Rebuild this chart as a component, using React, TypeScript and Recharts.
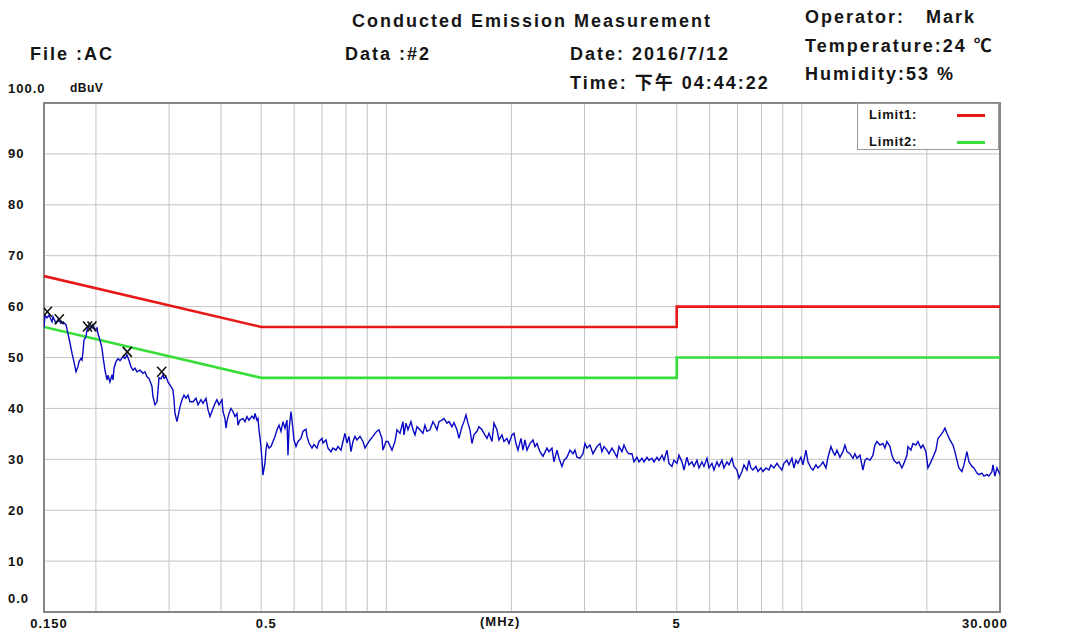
import React from 'react';
import { ComposedChart, Line, Scatter, XAxis, YAxis, CartesianGrid, ReferenceArea } from 'recharts';

const FREQ_MHZ = [
  0.1500, 0.1508, 0.1525, 0.1542, 0.1568, 0.1577, 0.1603, 0.1621, 0.1648, 0.1667, 0.1695, 0.1713, 0.1733, 0.1752, 0.1771, 0.1791, 0.1811, 0.1821, 0.1841, 0.1852, 0.1862, 0.1872,
  0.1893, 0.1904, 0.1925, 0.1957, 0.1968, 0.1990, 0.2012, 0.2023, 0.2046, 0.2069, 0.2080, 0.2103, 0.2127, 0.2139, 0.2162, 0.2187, 0.2199, 0.2211, 0.2236, 0.2261, 0.2286, 0.2324, 0.2350, 0.2376,
  0.2403, 0.2429, 0.2456, 0.2484, 0.2511, 0.2553, 0.2596, 0.2625, 0.2655, 0.2684, 0.2729, 0.2744, 0.2775, 0.2806, 0.2822, 0.2837, 0.2869, 0.2901, 0.2917, 0.2950, 0.2982,
  0.3032, 0.3066, 0.3083, 0.3100, 0.3135, 0.3152, 0.3187, 0.3223, 0.3259, 0.3295, 0.3332, 0.3369, 0.3426, 0.3483, 0.3522, 0.3581, 0.3621, 0.3681, 0.3723,
  0.3764, 0.3827, 0.3870, 0.3912, 0.3956, 0.4023, 0.4045, 0.4090, 0.4113, 0.4136, 0.4182, 0.4228, 0.4275, 0.4323, 0.4371, 0.4396, 0.4444, 0.4519, 0.4570, 0.4620, 0.4672,
  0.4750, 0.4803, 0.4830, 0.4883, 0.4911, 0.4938, 0.4993, 0.5021, 0.5048, 0.5105, 0.5133, 0.5162, 0.5219, 0.5277, 0.5336, 0.5396, 0.5456, 0.5517, 0.5578, 0.5640, 0.5703, 0.5767, 0.5799, 0.5832, 0.5897,
  0.5962, 0.5995, 0.6062, 0.6129, 0.6232, 0.6301, 0.6407, 0.6443, 0.6514, 0.6624, 0.6698, 0.6810, 0.6886, 0.7001, 0.7040, 0.7159, 0.7238, 0.7359, 0.7442,
  0.7566, 0.7650, 0.7779, 0.7865, 0.7953, 0.8042, 0.8131, 0.8222, 0.8314, 0.8406, 0.8500, 0.8643, 0.8788, 0.8885, 0.8985, 0.9135, 0.9288, 0.9392,
  0.9496, 0.9602, 0.9763, 0.9817, 0.9981, 1.0093, 1.0320, 1.0492, 1.0609, 1.0787, 1.0967, 1.1029, 1.1152, 1.1276, 1.1465, 1.1594, 1.1723, 1.1853,
  1.2051, 1.2253, 1.2389, 1.2527, 1.2737, 1.2952, 1.3096, 1.3242, 1.3390, 1.3614, 1.3766, 1.3998, 1.4153, 1.4390, 1.4551, 1.4795, 1.4959,
  1.5209, 1.5378, 1.5551, 1.5723, 1.5899, 1.6076, 1.6256, 1.6529, 1.6713, 1.6992, 1.7183, 1.7471, 1.7666, 1.7961, 1.8162, 1.8467, 1.8672,
  1.8984, 1.9195, 1.9516, 1.9735, 2.0064, 2.0289, 2.0515, 2.0744, 2.1091, 2.1325, 2.1565, 2.1805, 2.2171, 2.2543, 2.2795, 2.3047, 2.3435,
  2.3826, 2.4361, 2.4632, 2.5045, 2.5324, 2.5749, 2.6037, 2.6474, 2.6769, 2.7218, 2.7675, 2.8138, 2.8452, 2.8768, 2.9251, 2.9741,
  3.0070, 3.0405, 3.0914, 3.1435, 3.1785, 3.2138, 3.2677, 3.3042, 3.3410, 3.3972, 3.4350, 3.4927, 3.5317, 3.5909, 3.6310, 3.6921, 3.7331,
  3.7950, 3.8372, 3.9017, 3.9454, 4.0113, 4.0561, 4.1243, 4.1703, 4.2404, 4.2879, 4.3599, 4.4088, 4.4826, 4.5328, 4.6089, 4.6601,
  4.7368, 4.7894, 4.8701, 4.9241, 5.0067, 5.0622, 5.1476, 5.2050, 5.2922, 5.3511, 5.4407, 5.5014, 5.5939, 5.6565, 5.7514, 5.8154, 5.9132,
  5.9782, 6.0785, 6.1460, 6.2493, 6.3191, 6.4248, 6.4965, 6.6058, 6.6792, 6.7909, 6.8668, 6.9820, 7.0597, 7.1779, 7.2579, 7.3797, 7.4621,
  7.5449, 7.6291, 7.7569, 7.8434, 7.9750, 8.0637, 8.1990, 8.3365, 8.4290, 8.5704, 8.7140, 8.8117, 8.9591, 9.0590, 9.2117, 9.3139,
  9.4700, 9.5751, 9.6820, 9.7899, 9.9537, 10.064, 10.234, 10.347, 10.521, 10.639, 10.818, 10.938, 11.122, 11.246, 11.435, 11.563, 11.757,
  11.885, 12.017, 12.152, 12.356, 12.562, 12.703, 12.844, 13.060, 13.279, 13.427, 13.576, 13.804, 14.036, 14.192, 14.351, 14.591, 14.837,
  15.000, 15.167, 15.422, 15.680, 15.855, 16.032, 16.301, 16.482, 16.666, 16.946, 17.135, 17.422, 17.616, 17.912, 18.011, 18.313, 18.517, 18.828,
  19.037, 19.356, 19.571, 19.900, 20.121, 20.459, 20.687, 21.035, 21.267, 21.624, 21.866, 22.109, 22.356, 22.731, 23.112, 23.369, 23.630,
  23.892, 24.294, 24.563, 24.976, 25.255, 25.678, 25.963, 26.400, 26.693, 27.142, 27.444, 27.903, 28.216, 28.690, 28.849, 29.170, 29.495, 30.000,
];
const LEVEL_DBUV = [
  55.8, 58.3, 57.8, 58.3, 57.0, 58.0, 56.7, 57.4, 56.7, 57.0, 56.4, 54.7, 52.8, 50.8, 49.2, 47.2, 48.2, 49.2, 49.8, 49.5, 51.1, 53.4,
  54.1, 55.4, 56.2, 55.8, 56.4, 55.4, 55.8, 54.7, 53.4, 51.8, 50.2, 47.5, 45.6, 46.5, 45.2, 46.6, 45.6, 47.9, 49.2, 49.8, 49.4, 50.2, 49.8, 50.5,
  49.4, 48.2, 47.5, 47.9, 47.2, 47.5, 46.9, 47.2, 46.2, 45.9, 44.3, 42.3, 40.7, 41.3, 43.6, 46.0, 45.8, 46.6, 45.9, 46.2, 45.2,
  44.3, 43.6, 41.7, 39.0, 37.4, 38.4, 40.3, 41.7, 42.6, 42.0, 42.6, 41.3, 41.3, 42.0, 40.7, 41.7, 41.0, 42.0, 39.7,
  38.4, 40.0, 41.0, 41.7, 40.7, 41.7, 39.4, 38.0, 36.1, 37.5, 39.0, 40.0, 39.4, 38.4, 39.0, 36.7, 37.7, 38.0, 37.4, 38.4, 37.7,
  38.5, 38.0, 39.0, 37.7, 38.0, 35.8, 32.5, 29.9, 26.9, 29.3, 31.8, 33.1, 32.2, 32.5, 33.5, 34.5, 35.8, 36.7, 35.5, 37.4, 36.1, 37.7, 30.8, 35.8, 39.4,
  35.8, 33.8, 32.5, 33.5, 34.1, 35.5, 35.9, 34.5, 33.2, 32.2, 32.9, 32.2, 33.5, 34.1, 33.2, 33.8, 32.2, 31.5, 32.2,
  31.8, 32.5, 31.8, 33.5, 35.1, 33.2, 34.5, 31.5, 33.5, 34.5, 33.8, 34.5, 33.5, 32.2, 32.9, 33.8, 34.5, 35.1,
  35.5, 35.8, 34.1, 31.8, 33.5, 33.5, 31.8, 33.5, 35.8, 35.1, 37.4, 34.8, 37.1, 35.8, 37.4, 35.8, 34.8, 36.4,
  35.8, 35.1, 36.7, 35.5, 35.8, 37.4, 36.7, 35.8, 37.4, 37.7, 38.0, 37.1, 37.4, 36.4, 37.2, 35.8, 34.1,
  36.4, 37.4, 38.7, 37.1, 35.8, 33.1, 34.8, 35.5, 36.4, 35.8, 35.1, 34.1, 35.1, 33.5, 37.1, 35.8, 33.8,
  34.8, 33.5, 34.1, 33.1, 34.8, 35.1, 33.1, 31.8, 34.1, 31.8, 33.8, 31.8, 33.1, 33.8, 32.5, 33.1, 31.5,
  30.6, 32.2, 31.5, 32.2, 29.5, 31.8, 30.2, 28.6, 29.8, 30.4, 31.8, 31.1, 31.8, 30.4, 30.2, 31.1,
  33.1, 32.2, 32.8, 31.1, 31.8, 32.5, 33.1, 31.5, 32.5, 31.8, 31.1, 32.2, 31.5, 30.4, 32.5, 31.5, 32.8,
  31.5, 31.1, 31.1, 29.5, 30.4, 29.5, 30.2, 29.5, 30.4, 29.8, 30.2, 29.5, 30.4, 29.8, 30.8, 29.8,
  31.8, 29.2, 28.6, 29.8, 29.2, 30.8, 29.5, 27.9, 30.4, 28.9, 29.5, 28.6, 29.8, 28.3, 29.5, 28.6, 30.2,
  28.3, 29.2, 27.9, 29.5, 28.6, 29.8, 28.3, 29.5, 28.9, 30.2, 28.6, 27.9, 26.3, 27.6, 28.9, 27.9, 29.8,
  28.3, 27.9, 28.6, 27.6, 28.3, 27.6, 28.3, 27.9, 28.9, 28.3, 29.2, 28.6, 27.9, 29.2, 29.8, 28.9,
  30.2, 28.3, 29.8, 29.2, 30.4, 28.9, 31.8, 29.5, 28.3, 27.9, 28.9, 28.3, 28.9, 29.5, 28.3, 30.4, 32.5,
  31.5, 30.8, 31.8, 30.4, 31.5, 32.8, 31.5, 31.1, 30.2, 31.1, 30.2, 30.8, 27.9, 29.8, 30.2, 29.8, 30.8,
  32.8, 33.5, 32.8, 33.1, 32.2, 33.5, 32.5, 30.8, 29.8, 29.2, 29.5, 28.3, 29.2, 30.8, 32.5, 31.8, 33.1, 32.8,
  33.5, 32.2, 32.8, 31.5, 28.3, 29.5, 30.4, 31.8, 34.1, 34.8, 35.4, 36.1, 35.1, 33.8, 32.8, 31.5, 29.8,
  28.3, 27.6, 28.9, 31.5, 29.5, 28.6, 28.3, 27.3, 27.0, 27.3, 26.7, 27.0, 26.7, 27.6, 28.9, 26.7, 28.3, 27.0,
];

const LIMIT1_FREQ = [0.15, 0.5, 5, 5, 30];
const LIMIT1_LEVEL = [66, 56, 56, 60, 60];
const LIMIT2_FREQ = [0.15, 0.5, 5, 5, 30];
const LIMIT2_LEVEL = [56, 46, 46, 50, 50];

const MARKER_FREQ = [0.1528, 0.1633, 0.1909, 0.1957, 0.2380, 0.2880];
const MARKER_LEVEL = [59.0, 57.5, 56.1, 56.1, 51.1, 47.2];

const X_TICKS = [0.15, 0.2, 0.3, 0.4, 0.5, 0.6, 0.7, 0.8, 0.9, 1, 2, 3, 4, 5, 6, 7, 8, 9, 10, 20, 30];
const X_LABELS: Record<string, string> = { '0.15': '0.150', '0.5': '0.5', '5': '5', '30': '30.000' };
const Y_TICKS = [0, 10, 20, 30, 40, 50, 60, 70, 80, 90, 100];
const Y_LABELS: Record<string, string> = { '0': '0.0', '100': '100.0' };

const traceData = FREQ_MHZ.map((f, i) => ({ f, v: LEVEL_DBUV[i] }));
const limit1Data = LIMIT1_FREQ.map((f, i) => ({ f, v: LIMIT1_LEVEL[i] }));
const limit2Data = LIMIT2_FREQ.map((f, i) => ({ f, v: LIMIT2_LEVEL[i] }));
const markerData = MARKER_FREQ.map((f, i) => ({ f, v: MARKER_LEVEL[i] }));

const FONT = "'Liberation Sans', Arial, 'Noto Sans CJK SC', sans-serif";
const RED = '#e81818';
const GREEN = '#38de38';
const BLUE = '#0808c4';

const XTick = (props: any) => {
  const { x, y, payload } = props;
  const label = X_LABELS[String(payload.value)];
  if (!label) return <g />;
  const dx = payload.value === 0.15 ? 5 : payload.value === 0.5 ? 5 : payload.value === 30 ? -15 : 0;
  return (
    <text x={x + dx} y={y + 11} textAnchor="middle" dominantBaseline="central"
      fontFamily={FONT} fontWeight="bold" fontSize={13} letterSpacing={1} fill="#111">
      {label}
    </text>
  );
};

const YTick = (props: any) => {
  const { y, payload } = props;
  const v = payload.value;
  const label = Y_LABELS[String(v)] ?? String(v);
  const dy = v === 0 ? -14 : v === 100 ? -15 : 0;
  return (
    <g>
      <text x={8} y={y + dy} textAnchor="start" dominantBaseline="central"
        fontFamily={FONT} fontWeight="bold" fontSize={13} letterSpacing={1} fill="#111">
        {label}
      </text>
      {v === 100 && (
        <text x={70} y={y + dy} textAnchor="start" dominantBaseline="central"
          fontFamily={FONT} fontWeight="bold" fontSize={12} letterSpacing={0.5} fill="#111">
          dBuV
        </text>
      )}
    </g>
  );
};

const XMark = (props: any) => {
  const { cx, cy } = props;
  const w = 4.5;
  const h = 5;
  return (
    <path d={`M${cx - w},${cy - h}L${cx + w},${cy + h}M${cx + w},${cy - h}L${cx - w},${cy + h}`}
      stroke="#111" strokeWidth={1.6} fill="none" />
  );
};

const HeaderText = ({ left, cy, children, size = 18 }: any) => (
  <div style={{
    position: 'absolute', left, top: cy - size / 2, height: size, lineHeight: `${size}px`,
    fontFamily: FONT, fontWeight: 'bold', fontSize: size, letterSpacing: 2, whiteSpace: 'pre', color: '#151515',
  }}>{children}</div>
);

const LegendRow = ({ label, color, cy }: any) => (
  <>
    <div style={{
      position: 'absolute', left: 11, top: cy - 8, height: 16, lineHeight: '16px',
      fontFamily: FONT, fontWeight: 'bold', fontSize: 13, letterSpacing: 0.8, color: '#111',
    }}>{label}</div>
    <div style={{ position: 'absolute', left: 99, top: cy - 1.5, width: 28, height: 3, background: color }} />
  </>
);

export default function App() {
  return (
    <div style={{ position: 'absolute', left: 0, top: 0, width: 1073, height: 630, background: '#fff', overflow: 'hidden' }}>
      <ComposedChart width={1073} height={630} margin={{ top: 103, right: 73, bottom: 0, left: 8 }}>
        <CartesianGrid stroke="#c4c4c4" strokeWidth={1} />
        <XAxis type="number" dataKey="f" scale="log" domain={[0.15, 30]} allowDataOverflow
          ticks={X_TICKS} interval={0} tick={<XTick />} tickLine={false} axisLine={false}
          tickSize={0} tickMargin={0} height={18} />
        <YAxis type="number" dataKey="v" domain={[0, 100]} allowDataOverflow ticks={Y_TICKS} interval={0}
          tick={<YTick />} tickLine={false} axisLine={false} tickSize={0} tickMargin={0} width={36} />
        <ReferenceArea x1={0.15} x2={30} y1={0} y2={100} fill="none" fillOpacity={0} stroke="#858585" strokeWidth={2} />
        <Line data={limit1Data} dataKey="v" type="linear" stroke={RED} strokeWidth={2.6} dot={false} isAnimationActive={false} />
        <Line data={limit2Data} dataKey="v" type="linear" stroke={GREEN} strokeWidth={2.6} dot={false} isAnimationActive={false} />
        <Line data={traceData} dataKey="v" type="linear" stroke={BLUE} strokeWidth={1.4} dot={false} isAnimationActive={false} />
        <Scatter data={markerData} dataKey="v" shape={<XMark />} isAnimationActive={false} />
      </ComposedChart>

      <HeaderText left={352} cy={21}>Conducted Emission Measurement</HeaderText>
      <HeaderText left={805} cy={17}>{'Operator:   Mark'}</HeaderText>
      <HeaderText left={30} cy={54}>File :AC</HeaderText>
      <HeaderText left={345} cy={54}>Data :#2</HeaderText>
      <HeaderText left={570} cy={54}>Date: 2016/7/12</HeaderText>
      <HeaderText left={805} cy={46}>Temperature:24 ℃</HeaderText>
      <HeaderText left={570} cy={83}>Time: 下午 04:44:22</HeaderText>
      <HeaderText left={805} cy={74}>Humidity:53 %</HeaderText>

      <div style={{
        position: 'absolute', left: 480, top: 615, height: 14, lineHeight: '14px',
        fontFamily: FONT, fontWeight: 'bold', fontSize: 13, letterSpacing: 1, color: '#111',
      }}>(MHz)</div>

      <div style={{
        position: 'absolute', left: 857, top: 103, width: 142, height: 47,
        border: '1.5px solid #9a9a9a', background: '#fff', boxSizing: 'border-box',
      }}>
        <LegendRow label="Limit1:" color={RED} cy={11} />
        <LegendRow label="Limit2:" color={GREEN} cy={38} />
      </div>
    </div>
  );
}
